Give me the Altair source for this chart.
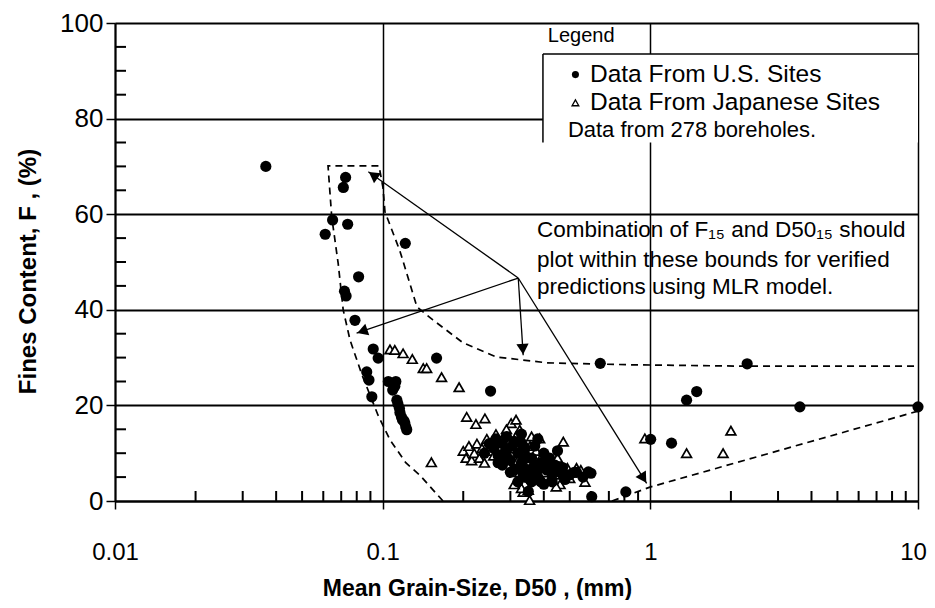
import math
import altair as alt
import pandas as pd

# ---------------- data ----------------
# U.S. sites (filled circles): D50 (mm), fines content (%)
us_x = [0.0366, 0.0727, 0.0713, 0.065, 0.074, 0.061, 0.1215, 0.0813, 0.0720, 0.0730,
        0.0788, 0.0922, 0.0962, 0.159, 0.0872, 0.0889, 0.0911, 0.105, 0.112, 0.109,
        0.111, 0.113, 0.114, 0.1155, 0.116, 0.1175, 0.1185, 0.120, 0.121, 0.122, 0.123,
        0.253, 0.65, 2.30, 1.366, 1.49, 3.62, 10.0, 1.003, 1.20, 0.81, 0.604,
        0.26, 0.27, 0.28, 0.29, 0.30, 0.31, 0.32, 0.33, 0.34, 0.35, 0.36, 0.37, 0.38,
        0.39, 0.40, 0.41, 0.42, 0.43, 0.44, 0.46, 0.48, 0.50, 0.53, 0.56, 0.60, 0.587,
        0.29, 0.33, 0.37, 0.36, 0.40, 0.34, 0.31, 0.28, 0.25, 0.45, 0.38, 0.32, 0.35,
        0.24, 0.265, 0.285, 0.305, 0.325, 0.345, 0.365, 0.385, 0.405, 0.425, 0.47, 0.52,
        0.27, 0.30, 0.335, 0.355, 0.39, 0.43, 0.33, 0.29]
us_f = [70.0, 67.7, 65.6, 58.8, 57.9, 55.8, 53.9, 46.9, 43.9, 42.9,
        37.8, 31.8, 29.9, 29.9, 27.0, 25.3, 21.8, 25.0, 25.0, 23.2,
        24.0, 21.1, 20.3, 19.4, 18.5, 17.6, 17.0, 16.8, 16.3, 15.5, 14.9,
        23.0, 28.8, 28.7, 21.1, 22.9, 19.7, 19.7, 12.9, 12.1, 1.9, 0.9,
        11.0, 9.5, 12.0, 10.5, 8.5, 12.5, 10.0, 8.0, 11.0, 6.5, 9.0, 7.5, 5.0,
        8.0, 10.0, 6.5, 9.0, 5.5, 7.5, 6.0, 4.5, 5.5, 6.0, 5.0, 5.8, 6.1,
        13.5, 14.0, 11.5, 4.0, 3.5, 5.0, 6.5, 7.5, 12.0, 10.5, 13.0, 4.0, 2.0,
        10.0, 13.0, 10.0, 11.5, 7.0, 9.0, 6.0, 7.0, 8.0, 7.5, 7.0, 6.0,
        8.0, 6.0, 5.5, 4.5, 4.0, 4.0, 12.0, 9.0]

# Japanese sites (open triangles)
jp_x = [0.1065, 0.111, 0.1192, 0.129, 0.1418, 0.146, 0.166, 0.193,
        0.206, 0.223, 0.241, 0.302, 0.315, 0.325, 0.36, 0.386, 0.473, 0.152,
        0.200, 0.205, 0.210, 0.215, 0.220, 0.225, 0.230, 0.235, 0.240, 0.245,
        0.250, 0.255, 0.260, 0.265, 0.270, 0.275, 0.280, 0.285, 0.290, 0.295,
        0.300, 0.305, 0.310, 0.315, 0.320, 0.325, 0.330, 0.335, 0.340, 0.345,
        0.350, 0.355, 0.360, 0.365, 0.370, 0.375, 0.380, 0.385, 0.390, 0.400,
        0.410, 0.420, 0.430, 0.440, 0.450, 0.460,
        0.445, 0.49, 0.53, 0.50, 0.57, 0.55,
        0.335, 0.354, 0.33, 0.35, 0.31,
        0.954, 1.366, 1.87, 2.0]
jp_f = [31.7, 31.6, 30.9, 29.7, 27.8, 27.8, 25.9, 23.8,
        17.6, 16.1, 17.3, 16.3, 17.0, 14.9, 13.5, 13.1, 12.4, 8.1,
        10.5, 9.0, 11.5, 8.5, 10.0, 12.0, 9.0, 11.0, 8.0, 13.0,
        10.5, 12.0, 9.5, 14.0, 11.5, 8.5, 13.0, 10.0, 15.0, 12.0,
        9.0, 7.0, 11.0, 13.5, 8.5, 6.0, 10.0, 12.5, 7.5, 5.0,
        9.5, 11.5, 6.5, 8.0, 4.5, 10.5, 7.0, 5.5, 9.0, 6.0,
        8.0, 4.5, 7.0, 5.5, 9.0, 3.5,
        3.0, 6.9, 6.9, 4.8, 4.0, 6.5,
        1.9, 0.2, 2.7, 2.3, 3.5,
        13.1, 10.0, 10.0, 14.7]

# dashed bounds
bound_x = [0.168, 0.1377, 0.122, 0.1065, 0.096, 0.0837, 0.0755, 0.0712, 0.0682, 0.0645,
           0.0625, 0.0969, 0.1003, 0.102, 0.116, 0.1343, 0.154, 0.1995, 0.267, 0.334,
           0.411, 0.839, 2.30, 10.0]
bound_f = [0.0, 5.4, 8.0, 12.8, 18.0, 26.4, 33.7, 40.0, 49.7, 59.5,
           70.1, 70.1, 65.5, 60.5, 52.3, 40.6, 37.9, 33.1, 30.1, 29.5,
           28.9, 28.5, 28.2, 28.2]
low_x = [0.719, 0.9966, 10.0]
low_f = [0.0, 2.9, 18.8]

# arrows
arrow_from = (0.321, 46.65)
arrow_tip_x = [0.0884, 0.0799, 0.335, 0.969]
arrow_tip_f = [68.9, 35.1, 30.5, 3.7]

x_major = [0.01, 0.1, 1, 10]
y_major = [0, 20, 40, 60, 80, 100]
x_minor = [m * d for d in (0.01, 0.1, 1) for m in range(2, 10)]
y_minor = [v for v in range(5, 100, 5) if v % 20]

note_lines = ["Combination of F\u2081\u2085 and D50\u2081\u2085 should",
              "plot within these bounds for verified",
              "predictions using MLR model."]
legend_labels = ["Data From U.S. Sites", "Data From Japanese Sites"]
legend_note = "Data from 278 boreholes."

# ---------------- layout ----------------
W, H = 803, 478
FONT = "Liberation Sans"


def px(x):
    return W * (math.log10(x) + 2) / 3


def py(f):
    return H * (1 - f / 100)


def inv_x(p):
    return 10 ** (3 * p / W - 2)


def inv_f(p):
    return 100 * (1 - p / H)


xs = alt.Scale(type="log", domain=[0.01, 10])
ys = alt.Scale(domain=[0, 100])


def X(field="x"):
    return alt.X(f"{field}:Q", scale=xs, axis=alt.Axis(
        values=x_major, format="~g", title="Mean Grain-Size, D50 , (mm)",
        grid=True, gridColor="black", gridWidth=1.5, gridOpacity=1,
        domainColor="black", domainWidth=2, tickColor="black", tickWidth=1.5,
        tickSize=8, labelFontSize=24, labelPadding=31, labelColor="black",
        labelFont=FONT, labelFlush=False, labelOverlap=False,
        labelOffset={"condition": {"test": "datum.value == 10", "value": -5}, "value": 0},
        titleFont=FONT, titleFontSize=23, titleFontWeight="bold", titleColor="black",
        titleX=362, titleY=87, titleBaseline="middle", titleAlign="center"))


def Y(field="y"):
    return alt.Y(f"{field}:Q", scale=ys, axis=alt.Axis(
        values=y_major, title="Fines Content, F , (%)",
        grid=True, gridColor="black", gridWidth=2, gridOpacity=1,
        domainColor="black", domainWidth=2, tickColor="black", tickWidth=1.5,
        tickSize=9, labelFontSize=26, labelPadding=3, labelColor="black",
        labelFont=FONT, labelOverlap=False,
        titleFont=FONT, titleFontSize=24, titleFontWeight="bold", titleColor="black",
        titleAngle=270, titleX=-87, titleY=248, titleBaseline="middle", titleAlign="center"))


# minor ticks (inward)
xm = pd.DataFrame({"x": x_minor, "y": [inv_f(H - 5)] * len(x_minor)})
ym = pd.DataFrame({"x": [inv_x(5.5)] * len(y_minor), "y": [float(v) for v in y_minor]})
minor_x = alt.Chart(xm).mark_tick(color="black", orient="vertical", size=10, thickness=2,
                                  opacity=1).encode(x=X(), y=Y())
minor_y = alt.Chart(ym).mark_tick(color="black", orient="horizontal", size=11, thickness=2,
                                  opacity=1).encode(x=X(), y=Y())

# dashed bounds
bdf = pd.DataFrame({"x": bound_x, "y": bound_f, "o": list(range(len(bound_x)))})
ldf = pd.DataFrame({"x": low_x, "y": low_f, "o": list(range(len(low_x)))})
bound = alt.Chart(bdf).mark_line(color="black", strokeWidth=1.7, strokeDash=[7, 5]).encode(
    x=X(), y=Y(), order="o:Q")
lowb = alt.Chart(ldf).mark_line(color="black", strokeWidth=1.7, strokeDash=[7, 5]).encode(
    x=X(), y=Y(), order="o:Q")

# arrows
adf = pd.DataFrame({"x": [arrow_from[0]] * 4, "y": [arrow_from[1]] * 4,
                    "x2": arrow_tip_x, "y2": arrow_tip_f})
arrows = alt.Chart(adf).mark_rule(color="black", strokeWidth=1.3).encode(
    x=X(), y=Y(), x2="x2:Q", y2="y2:Q")
heads = []
for tx, tf in zip(arrow_tip_x, arrow_tip_f):
    dx = px(tx) - px(arrow_from[0])
    dy = py(tf) - py(arrow_from[1])
    L = math.hypot(dx, dy)
    ang = math.degrees(math.atan2(dx, -dy)) % 360
    cx = px(tx) - dx / L * 6
    cy = py(tf) - dy / L * 6
    heads.append({"x": inv_x(cx), "y": inv_f(cy), "a": ang})
hdf = pd.DataFrame(heads)
arrowheads = alt.Chart(hdf).mark_point(shape="triangle-up", filled=True, color="black",
                                       size=150, opacity=1).encode(
    x=X(), y=Y(), angle=alt.Angle("a:Q", scale=None))

# data points
jdf = pd.DataFrame({"x": jp_x, "y": jp_f})
udf = pd.DataFrame({"x": us_x, "y": us_f})
jp = alt.Chart(jdf).mark_point(shape="triangle-up", filled=True, fill="white", stroke="black",
                               strokeWidth=1.7, size=95, opacity=1).encode(x=X(), y=Y())
us = alt.Chart(udf).mark_point(shape="circle", filled=True, color="black", size=125,
                               opacity=1).encode(x=X(), y=Y())

# annotation text
ndf = pd.DataFrame({"x": [0.377] * 3, "y": [56.7, 50.5, 44.7], "t": note_lines})
note = alt.Chart(ndf).mark_text(align="left", baseline="middle", font=FONT, fontSize=22.5,
                                color="black").encode(x=X(), y=Y(), text="t:N")

# legend box
box = alt.Chart(pd.DataFrame({"x": [0.397], "x2": [10.0], "y": [75.0], "y2": [93.5]})).mark_rect(
    fill="white").encode(x=X(), x2="x2:Q", y=Y(), y2="y2:Q")
box_edges = alt.Chart(pd.DataFrame({"x": [0.397, 0.397], "x2": [10.0, 0.397],
                                    "y": [93.5, 75.0], "y2": [93.5, 93.5]})).mark_rule(
    color="black", strokeWidth=1.5).encode(x=X(), x2="x2:Q", y=Y(), y2="y2:Q")
leg_title = alt.Chart(pd.DataFrame({"x": [0.414], "y": [97.3], "t": ["Legend"]})).mark_text(
    align="left", baseline="middle", font=FONT, fontSize=20, color="black").encode(
    x=X(), y=Y(), text="t:N")
leg_rows = alt.Chart(pd.DataFrame({"x": [0.595, 0.595], "y": [89.2, 83.3],
                                   "t": legend_labels})).mark_text(
    align="left", baseline="middle", font=FONT, fontSize=24.5, color="black").encode(
    x=X(), y=Y(), text="t:N")
leg_note = alt.Chart(pd.DataFrame({"x": [0.492], "y": [77.7], "t": [legend_note]})).mark_text(
    align="left", baseline="middle", font=FONT, fontSize=22, color="black").encode(
    x=X(), y=Y(), text="t:N")
leg_dot = alt.Chart(pd.DataFrame({"x": [0.525], "y": [89.2]})).mark_point(
    shape="circle", filled=True, color="black", size=50, opacity=1).encode(x=X(), y=Y())
leg_tri = alt.Chart(pd.DataFrame({"x": [0.525], "y": [83.3]})).mark_point(
    shape="triangle-up", filled=True, fill="white", stroke="black", strokeWidth=1.3,
    size=45, opacity=1).encode(x=X(), y=Y())

chart = alt.layer(
    bound, lowb, arrows, arrowheads, jp, us, note,
    box, box_edges, leg_title, leg_rows, leg_note, leg_dot, leg_tri, minor_x, minor_y
).properties(
    width=W, height=H,
    autosize=alt.AutoSizeParams(type="none"),
    padding={"left": 107, "top": 15, "right": 9, "bottom": 99},
    background="white"
).configure_view(strokeWidth=0)

chart.save("out.html", embed_options={"renderer": "svg", "actions": False})
